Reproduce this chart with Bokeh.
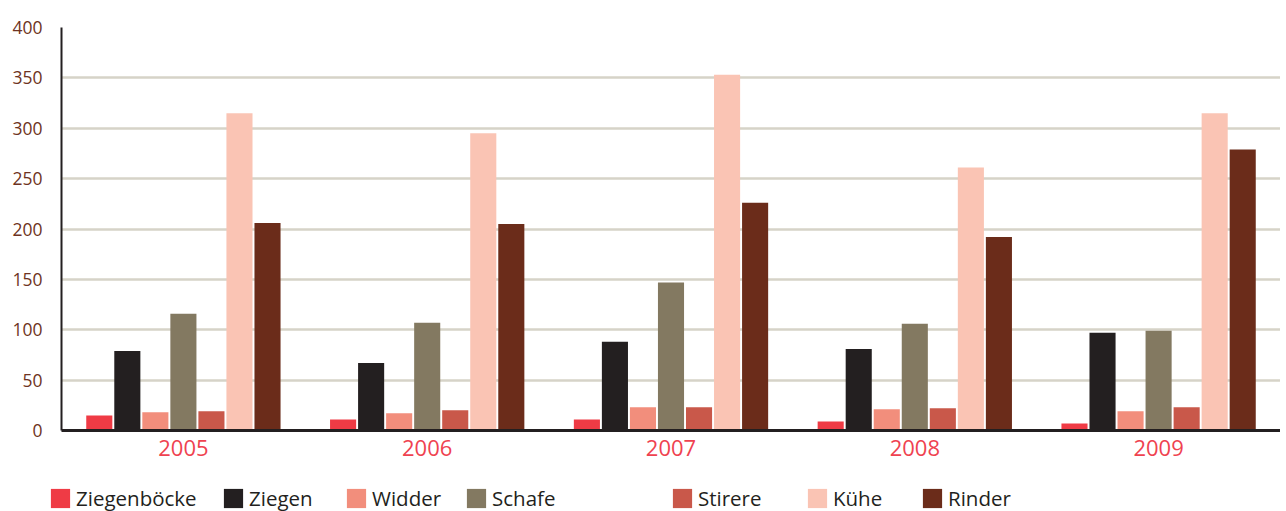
from bokeh.plotting import figure
from bokeh.models import (FactorRange, Range1d, ColumnDataSource, FixedTicker,
                          Legend, LegendItem)
from bokeh.transform import dodge
from bokeh.embed import file_html
from bokeh.resources import INLINE

years = ["2005", "2006", "2007", "2008", "2009"]
series = ["Ziegenböcke", "Ziegen", "Widder", "Schafe", "Stirere", "Kühe", "Rinder"]
ziegenboecke = [15, 11, 11, 9, 7]
ziegen = [79, 67, 88, 81, 97]
widder = [18, 17, 23, 21, 19]
schafe = [116, 107, 147, 106, 99]
stirere = [19, 20, 23, 22, 23]
kuehe = [315, 295, 353, 261, 315]
rinder = [206, 205, 226, 192, 279]
y_ticks = [0, 50, 100, 150, 200, 250, 300, 350, 400]

values = [ziegenboecke, ziegen, widder, schafe, stirere, kuehe, rinder]
colors = ["#ef3b45", "#231f20", "#f28e7c", "#837961", "#c9584a", "#fac4b4", "#6b2c1a"]

data = {"year": years}
keys = ["s%d" % i for i in range(len(series))]
for k, v in zip(keys, values):
    data[k] = v
source = ColumnDataSource(data)

FONT = "Open Sans"
W = 1280

p = figure(x_range=FactorRange(*years), y_range=Range1d(0, 400),
           width=W, height=466, output_backend="svg", toolbar_location=None,
           min_border_left=61, min_border_right=0, min_border_top=27,
           min_border_bottom=36)
p.outline_line_color = None

pitch = 0.115
bw = 0.107
for i, (k, c) in enumerate(zip(keys, colors)):
    p.vbar(x=dodge("year", (i - 3) * pitch, range=p.x_range), top=k,
           width=bw, source=source, color=c, line_color=None)

p.xgrid.grid_line_color = None
p.ygrid.grid_line_color = "#d6d3c8"
p.ygrid.grid_line_width = 2.5
p.yaxis.ticker = FixedTicker(ticks=y_ticks)

p.yaxis.axis_line_color = "#231f20"
p.yaxis.axis_line_width = 2
p.yaxis.major_tick_line_color = None
p.yaxis.minor_tick_line_color = None
p.yaxis.major_label_text_color = "#6e3322"
p.yaxis.major_label_text_font = FONT
p.yaxis.major_label_text_font_size = "17.5px"
p.yaxis.major_label_standoff = 13

p.xaxis.axis_line_color = "#231f20"
p.xaxis.axis_line_width = 3
p.xaxis.major_tick_line_color = None
p.xaxis.major_label_text_color = "#ef4250"
p.xaxis.major_label_text_font = FONT
p.xaxis.major_label_text_font_size = "22px"
p.xaxis.major_label_standoff = 3

# legend strip below the chart (separate canvas so it is not clipped)
p2 = figure(width=W, height=48, x_range=Range1d(0, 1), y_range=Range1d(0, 1),
            x_axis_type=None, y_axis_type=None, output_backend="svg",
            toolbar_location=None, min_border=0, min_border_left=0,
            min_border_right=0, min_border_top=0, min_border_bottom=0)
p2.outline_line_color = None
p2.xgrid.visible = False
p2.ygrid.visible = False

# zero-height proxy bars that only carry the legend swatch colours
proxy = ColumnDataSource(dict(x=[0], top=[0]))
legend_x = [48, 221, 344, 464, 670, 805, 920]
for name, c, lx in zip(series, colors, legend_x):
    r = p2.vbar(x="x", top="top", width=0, source=proxy, fill_color=c,
                line_color=None)
    lg = Legend(items=[LegendItem(label=name, renderers=[r])],
                location=(lx, 2), orientation="horizontal",
                padding=0, margin=0, spacing=0,
                glyph_width=24, glyph_height=24, label_height=24,
                label_standoff=4,
                label_text_font=FONT, label_text_font_size="20.5px",
                label_text_color="#231f20",
                border_line_alpha=0, background_fill_alpha=0)
    p2.add_layout(lg, "center")

open("out.html", "w").write(file_html([p, p2], INLINE))
